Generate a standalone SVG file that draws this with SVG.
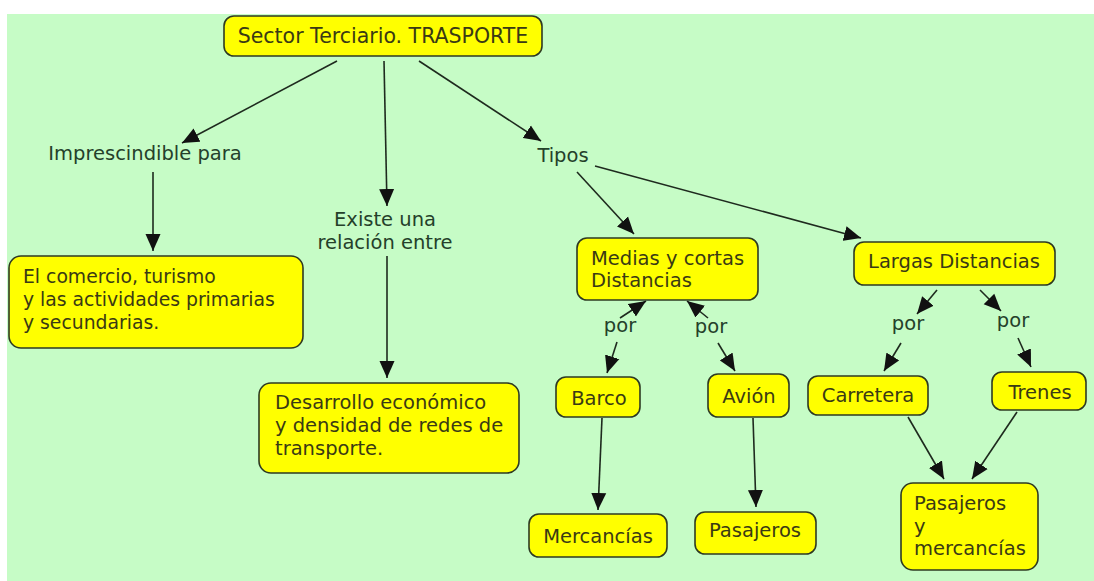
<svg xmlns="http://www.w3.org/2000/svg" width="1094" height="581" viewBox="0 0 1094 581">
<style>
.bg{fill:#c6fcc6}
.box{fill:#ffff00;stroke:#2e3a22;stroke-width:1.6}
.t{font-family:"DejaVu Sans",Verdana,sans-serif;font-size:19.5px;fill:#3a3a14}
.l{font-family:"DejaVu Sans",Verdana,sans-serif;font-size:19.5px;fill:#24402a}
.c{text-anchor:middle}
.ln{stroke:#1e2a1e;stroke-width:1.6;fill:none;marker-end:url(#ah)}
</style>
<defs>
<marker id="ah" markerUnits="userSpaceOnUse" markerWidth="18" markerHeight="16" refX="17" refY="7.5" orient="auto" viewBox="0 0 18 15">
<path d="M0,0 L17,7.5 L0,15 z" fill="#111"/>
</marker>
</defs>
<rect x="0" y="0" width="1094" height="581" fill="#ffffff"/>
<rect class="bg" x="7" y="14" width="1087" height="567"/>
<g id="connectors">
<line class="ln" x1="337" y1="61" x2="182" y2="143"/>
<line class="ln" x1="384" y1="61" x2="387" y2="206"/>
<line class="ln" x1="419" y1="61" x2="541" y2="141"/>
<line class="ln" x1="153" y1="172" x2="153" y2="251"/>
<line class="ln" x1="387" y1="256" x2="387" y2="378"/>
<line class="ln" x1="577" y1="172" x2="634" y2="234"/>
<line class="ln" x1="595" y1="166" x2="861" y2="238"/>
<line class="ln" x1="620" y1="318" x2="646" y2="301"/>
<line class="ln" x1="617" y1="342" x2="607" y2="373"/>
<line class="ln" x1="708" y1="318" x2="687" y2="301"/>
<line class="ln" x1="718" y1="343" x2="735" y2="371"/>
<line class="ln" x1="937" y1="290" x2="917" y2="314"/>
<line class="ln" x1="901" y1="343" x2="884" y2="371"/>
<line class="ln" x1="980" y1="290" x2="1001" y2="311"/>
<line class="ln" x1="1018" y1="338" x2="1031" y2="367"/>
<line class="ln" x1="602" y1="418" x2="598" y2="510"/>
<line class="ln" x1="753" y1="418" x2="756" y2="507"/>
<line class="ln" x1="908" y1="417" x2="944" y2="479"/>
<line class="ln" x1="1017" y1="412" x2="972" y2="479"/>
</g>
<g id="n-top"><rect class="box" x="224" y="16" width="318" height="40" rx="10"/><text class="t c" x="383" y="43" style="font-size:20.5px">Sector Terciario. TRASPORTE</text></g>
<g id="l-impres"><text class="l c" x="145" y="160">Imprescindible para</text></g>
<g id="l-existe"><text class="l c" x="385" y="226">Existe una<tspan x="385" y="249">relación entre</tspan></text></g>
<g id="l-tipos"><text class="l c" x="563" y="162">Tipos</text></g>
<g id="n-comercio"><rect class="box" x="9" y="256" width="294" height="92" rx="12"/><text class="t" x="23" y="283" style="font-size:18.8px">El comercio, turismo<tspan x="23" y="306">y las actividades primarias</tspan><tspan x="23" y="329">y secundarias.</tspan></text></g>
<g id="n-desarrollo"><rect class="box" x="259" y="383" width="260" height="90" rx="12"/><text class="t" x="275" y="409">Desarrollo económico<tspan x="275" y="432">y densidad de redes de</tspan><tspan x="275" y="455">transporte.</tspan></text></g>
<g id="n-medias"><rect class="box" x="577" y="238" width="181" height="62" rx="10"/><text class="t" x="591" y="265">Medias y cortas<tspan x="591" y="287">Distancias</tspan></text></g>
<g id="n-largas"><rect class="box" x="854" y="242" width="201" height="43" rx="10"/><text class="t c" x="954" y="268">Largas Distancias</text></g>
<g id="l-por1"><text class="l c" x="620" y="332">por</text></g>
<g id="l-por2"><text class="l c" x="711" y="333">por</text></g>
<g id="l-por3"><text class="l c" x="908" y="330">por</text></g>
<g id="l-por4"><text class="l c" x="1013" y="327">por</text></g>
<g id="n-barco"><rect class="box" x="556" y="377" width="84" height="40" rx="10"/><text class="t c" x="599" y="405">Barco</text></g>
<g id="n-avion"><rect class="box" x="708" y="374" width="81" height="43" rx="10"/><text class="t c" x="749" y="403">Avión</text></g>
<g id="n-carretera"><rect class="box" x="808" y="376" width="120" height="39" rx="10"/><text class="t c" x="868" y="402">Carretera</text></g>
<g id="n-trenes"><rect class="box" x="992" y="372" width="94" height="38" rx="10"/><text class="t c" x="1040" y="399">Trenes</text></g>
<g id="n-mercancias"><rect class="box" x="529" y="514" width="138" height="43" rx="10"/><text class="t c" x="598" y="543">Mercancías</text></g>
<g id="n-pasajeros"><rect class="box" x="695" y="512" width="121" height="42" rx="10"/><text class="t c" x="755" y="537">Pasajeros</text></g>
<g id="n-pym"><rect class="box" x="901" y="483" width="137" height="87" rx="12"/><text class="t" x="914" y="510">Pasajeros<tspan x="914" y="533">y</tspan><tspan x="914" y="555">mercancías</tspan></text></g>
</svg>
